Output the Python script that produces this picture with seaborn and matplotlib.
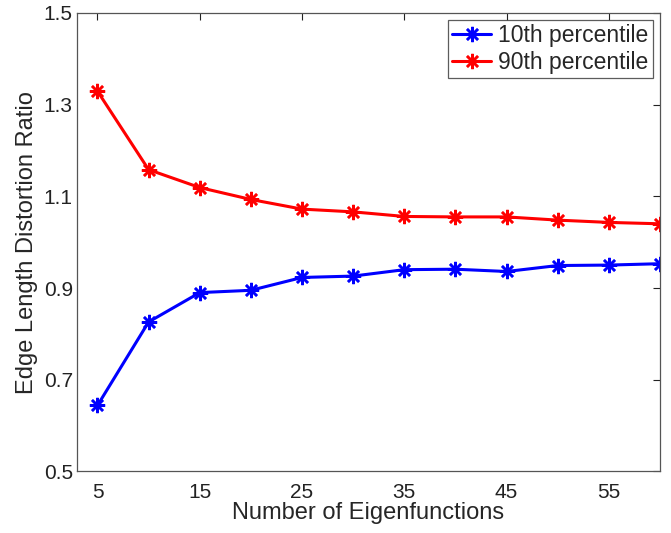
import pandas as pd
import matplotlib
matplotlib.use("Agg")
import matplotlib.pyplot as plt
import seaborn as sns

# Datos
n_eigen = [5, 10, 15, 20, 25, 30, 35, 40, 45, 50, 55, 60]
p10 = [0.644, 0.826, 0.890, 0.895, 0.923, 0.926, 0.940, 0.941, 0.936, 0.949, 0.950, 0.953]
p90 = [1.329, 1.158, 1.119, 1.093, 1.072, 1.066, 1.056, 1.055, 1.055, 1.048, 1.043, 1.040]
series_names = ["10th percentile", "90th percentile"]
series_colors = ["#0000ff", "#ff0000"]
x_ticks = [5, 15, 25, 35, 45, 55]
y_ticks = [0.5, 0.7, 0.9, 1.1, 1.3, 1.5]

df = pd.DataFrame({
    "Number of Eigenfunctions": n_eigen * 2,
    "Ratio": p10 + p90,
    "Serie": [series_names[0]] * len(n_eigen) + [series_names[1]] * len(n_eigen),
})

sns.set_style("white")
plt.rcParams["font.family"] = ["Liberation Sans", "DejaVu Sans"]

fig = plt.figure(figsize=(6.71, 5.33), dpi=100)
ax = fig.add_axes([0.1148, 0.1154, 0.8688, 0.8606])

for name, color in zip(series_names, series_colors):
    sns.lineplot(
        data=df[df["Serie"] == name],
        x="Number of Eigenfunctions",
        y="Ratio",
        color=color,
        marker=(8, 2, 0),
        markersize=11,
        markeredgewidth=1.8,
        markeredgecolor=color,
        linewidth=2.2,
        label=name,
        ax=ax,
    )

ax.set_xlim(3, 60)
ax.set_ylim(0.5, 1.5)
ax.set_xticks(x_ticks)
ax.set_yticks(y_ticks)
ax.set_yticklabels([f"{v:.1f}" for v in y_ticks])
ax.tick_params(direction="in", length=5, width=0.8, top=True, right=True,
               labelsize=15, colors="#222222")
ax.tick_params(axis="x", pad=8)
ax.tick_params(axis="y", pad=3)
for side in ax.spines.values():
    side.set_color("#555555")
    side.set_linewidth(0.9)

ax.set_xlabel("Number of Eigenfunctions", fontsize=17, labelpad=0)
ax.set_ylabel("Edge Length Distortion Ratio", fontsize=17, labelpad=4)

leg = ax.legend(loc="upper right", fontsize=16.5, frameon=True, fancybox=False,
                borderpad=0.2, handlelength=1.7, handletextpad=0.3,
                labelspacing=0.15, borderaxespad=0.3)
leg.get_frame().set_edgecolor("#333333")
leg.get_frame().set_linewidth(0.9)

fig.savefig("out.png", dpi=100)
